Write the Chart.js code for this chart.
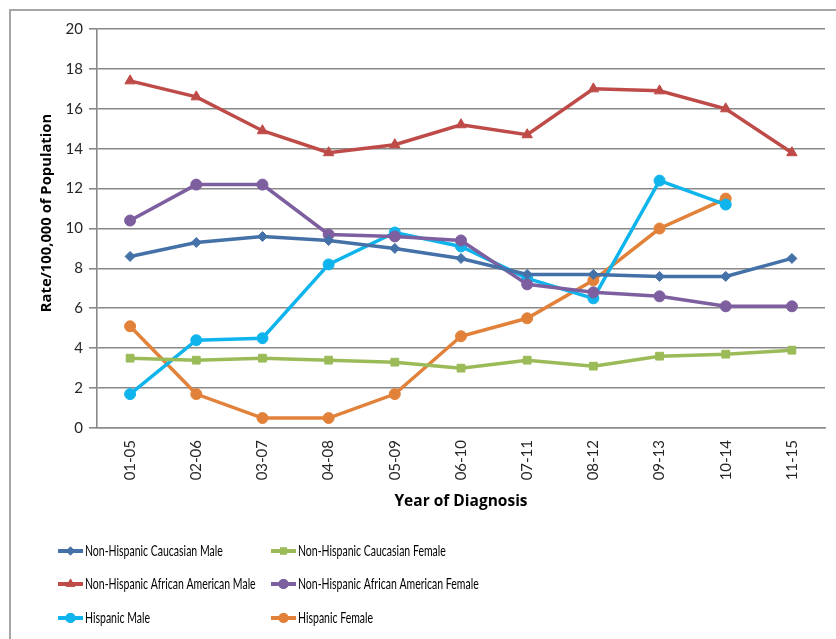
<!DOCTYPE html>
<html>
<head>
<meta charset="utf-8">
<script src="https://cdn.jsdelivr.net/npm/chart.js@4.4.1/dist/chart.umd.min.js"></script>
<style>
  html, body { margin: 0; padding: 0; background: #fff; }
  #wrap { width: 836px; height: 639px; position: relative; }
</style>
</head>
<body>
<div id="wrap"><canvas id="c" width="836" height="639"></canvas></div>
<script>
const categories = ["01-05","02-06","03-07","04-08","05-09","06-10","07-11","08-12","09-13","10-14","11-15"];
const caucasianMale = [8.6, 9.3, 9.6, 9.4, 9.0, 8.5, 7.7, 7.7, 7.6, 7.6, 8.5];
const caucasianFemale = [3.5, 3.4, 3.5, 3.4, 3.3, 3.0, 3.4, 3.1, 3.6, 3.7, 3.9];
const africanAmericanMale = [17.4, 16.6, 14.9, 13.8, 14.2, 15.2, 14.7, 17.0, 16.9, 16.0, 13.8];
const africanAmericanFemale = [10.4, 12.2, 12.2, 9.7, 9.6, 9.4, 7.2, 6.8, 6.6, 6.1, 6.1];
const hispanicMale = [1.7, 4.4, 4.5, 8.2, 9.8, 9.1, 7.5, 6.5, 12.4, 11.2, null];
const hispanicFemale = [5.1, 1.7, 0.5, 0.5, 1.7, 4.6, 5.5, 7.4, 10.0, 11.5, null];
const seriesLabels = ["Non-Hispanic Caucasian Male","Non-Hispanic Caucasian Female","Non-Hispanic African American Male","Non-Hispanic African American Female","Hispanic Male","Hispanic Female"];
const yTicks = [0, 2, 4, 6, 8, 10, 12, 14, 16, 18, 20];
const yTitle = "Rate/100,000 of Population";
const xTitle = "Year of Diagnosis";

const FONT = "Lato, 'Open Sans', sans-serif";
const TITLE_FONT = "'Open Sans', Lato, sans-serif";
const colors = ["#4471A8", "#9BBB59", "#BE4B48", "#7D5FA0", "#10B4EC", "#E2823A"];
const styles = ["rectRot", "rect", "triangle", "circle", "circle", "circle"];
const radii = [5, 5.5, 6, 5.5, 5.5, 5.5];
const seriesData = [caucasianMale, caucasianFemale, africanAmericanMale, africanAmericanFemale, hispanicMale, hispanicFemale];

const datasets = seriesData.map((d, i) => ({
  label: seriesLabels[i],
  data: d,
  borderColor: colors[i],
  backgroundColor: colors[i],
  pointBackgroundColor: colors[i],
  pointBorderColor: colors[i],
  pointStyle: styles[i],
  pointRadius: radii[i],
  pointBorderWidth: 1,
  borderWidth: 3.5,
  tension: 0,
  spanGaps: false
}));

const frame = {
  id: 'frame',
  beforeDraw(chart) {
    const ctx = chart.ctx;
    ctx.save();
    ctx.strokeStyle = '#A6A6A6';
    ctx.lineWidth = 2;
    ctx.strokeRect(10, 10, 900, 700);
    ctx.restore();
  }
};

const yTitlePlugin = {
  id: 'yTitle',
  afterDraw(chart) {
    const ctx = chart.ctx;
    ctx.save();
    ctx.translate(47, 213);
    ctx.rotate(-Math.PI / 2);
    ctx.font = "bold 14.8px " + TITLE_FONT;
    ctx.fillStyle = '#000';
    ctx.textAlign = 'center';
    ctx.textBaseline = 'middle';
    ctx.fillText(yTitle, 0, 0);
    ctx.restore();
  }
};

const legendPlugin = {
  id: 'customLegend',
  afterDraw(chart) {
    const ctx = chart.ctx;
    ctx.save();
    const colX = [58, 271];
    const rowY = [551, 584, 618];
    chart.data.datasets.forEach((ds, i) => {
      const x = colX[i % 2];
      const y = rowY[Math.floor(i / 2)];
      ctx.strokeStyle = ds.borderColor;
      ctx.lineWidth = 4;
      ctx.beginPath();
      ctx.moveTo(x, y);
      ctx.lineTo(x + 25, y);
      ctx.stroke();
      ctx.fillStyle = ds.borderColor;
      Chart.helpers.drawPoint(ctx, {pointStyle: ds.pointStyle, radius: ds.pointRadius - 0.5, borderWidth: 0, rotation: 0}, x + 12.5, y);
      ctx.fill();
      ctx.save();
      ctx.translate(x + 27, y);
      ctx.scale(0.7, 1);
      ctx.fillStyle = '#000';
      ctx.font = "15px " + FONT;
      ctx.textBaseline = 'middle';
      ctx.textAlign = 'left';
      ctx.fillText(ds.label, 0, 0);
      ctx.restore();
    });
    ctx.restore();
  }
};

new Chart(document.getElementById('c'), {
  type: 'line',
  data: { labels: categories, datasets },
  options: {
    responsive: false,
    animation: false,
    devicePixelRatio: 1,
    layout: { padding: { top: 29, right: 11, left: 0, bottom: 0 } },
    plugins: { legend: { display: false }, tooltip: { enabled: false } },
    scales: {
      x: {
        offset: true,
        grid: { display: false, drawTicks: false },
        border: { display: true, color: '#8C8C8C', width: 1.5 },
        ticks: { minRotation: 90, maxRotation: 90, padding: 12, color: '#262626', font: { family: FONT, size: 15 } },
        title: { display: true, text: xTitle, color: '#000', font: { family: TITLE_FONT, size: 15.5, weight: 'bold' }, padding: { top: 4, bottom: 128 } },
        afterFit(scale) { scale.height = 211; }
      },
      y: {
        min: 0, max: 20,
        afterBuildTicks(scale) { scale.ticks = yTicks.map(v => ({ value: v })); },
        grid: { color: '#888888', lineWidth: 1.6, tickLength: 8, drawTicks: true },
        border: { display: true, color: '#888888', width: 1.6 },
        ticks: { padding: 6, color: '#262626', font: { family: FONT, size: 15 } },
        title: { display: false },
        afterFit(scale) { scale.width = 97; }
      }
    }
  },
  plugins: [frame, yTitlePlugin, legendPlugin]
});
</script>
</body>
</html>
